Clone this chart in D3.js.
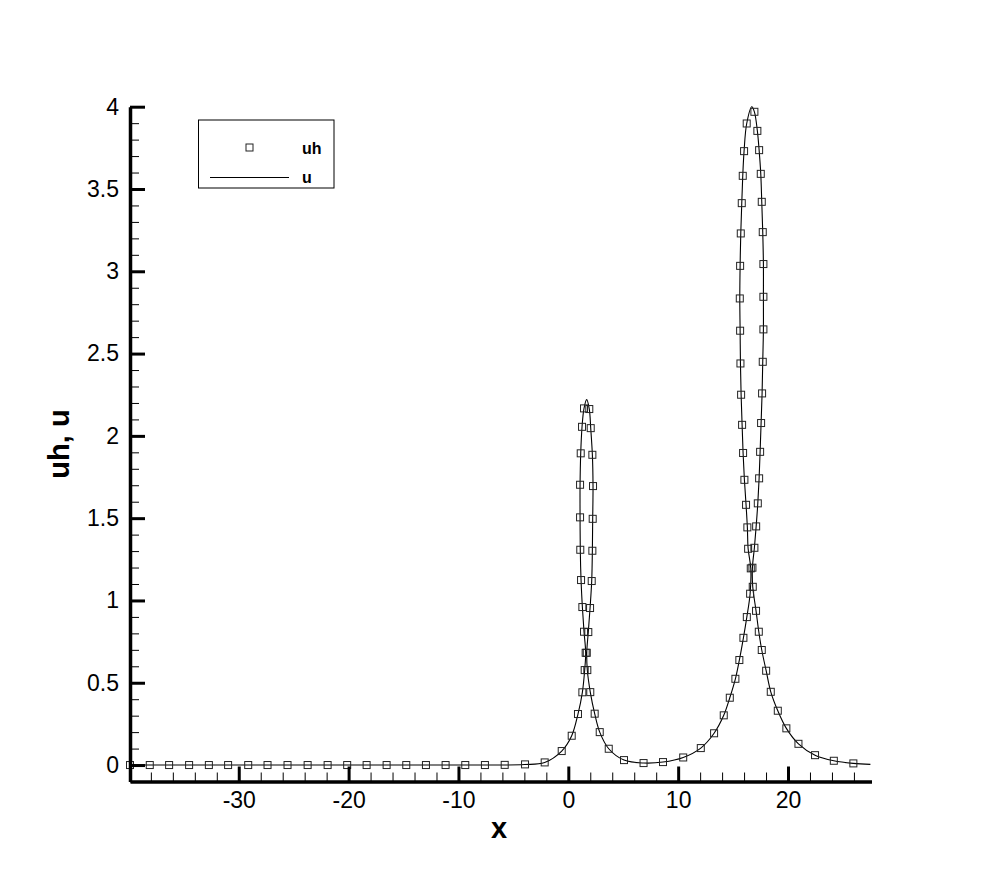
<!DOCTYPE html>
<html>
<head>
<meta charset="utf-8">
<script src="https://cdn.jsdelivr.net/npm/d3@7"></script>
<style>
  body { margin: 0; background: #fff; }
  text { font-family: "Liberation Sans", Arial, Helvetica, sans-serif; }
</style>
</head>
<body>
<div id="chart_block"></div>
<script>
// numerical solution markers (uh)
var uhX = [-39.9, -38.1, -36.34, -34.52, -32.72, -30.97, -29.14, -27.38, -25.56, -23.73,
    -21.91, -20.13, -18.36, -16.54, -14.75, -12.96, -11.17, -9.38, -7.59, -5.79, -3.94, -2.15,
    -0.6, 0.31, 0.88, 1.28, 1.49, 1.58, 1.43, 1.28, 1.16, 1.09, 1.07, 1.07, 1.13, 1.25, 1.43,
    1.91, 2.04, 2.19, 2.25, 2.22, 2.19, 2.13, 1.98, 1.82, 1.68, 1.73, 2.0, 2.4, 2.86, 3.68,
    5.07, 6.85, 8.62, 10.46, 12.06, 13.27, 14.15, 14.7, 15.21, 15.57, 15.94, 16.25, 16.55, 16.61,
    16.37, 16.3, 16.18, 16.03, 15.91, 15.82, 15.73, 15.67, 15.64, 15.61, 15.64, 15.7, 15.79, 15.88, 16.0, 16.24,
    16.94, 17.21, 17.37, 17.52, 17.61, 17.7, 17.76, 17.76, 17.76, 17.7, 17.64, 17.55, 17.46, 17.37, 17.25, 17.1, 16.94, 16.76,
    16.79, 17.09, 17.34, 17.61, 18.01, 18.43, 19.07, 19.85, 20.95, 22.46, 24.17, 25.95]
var uhU = [0, 0, 0, 0, 0, 0, 0, 0, 0, 0,
    0, 0, 0, 0, 0, 0, 0, 0, 0, 0.001, 0.004, 0.016,
    0.085, 0.178, 0.31, 0.442, 0.577, 0.682, 0.81, 0.96, 1.124, 1.308, 1.505, 1.703, 1.894, 2.055, 2.167,
    2.163, 2.047, 1.885, 1.695, 1.496, 1.302, 1.118, 0.954, 0.808, 0.682, 0.577, 0.443, 0.312, 0.2, 0.099,
    0.03, 0.012, 0.018, 0.046, 0.103, 0.193, 0.302, 0.409, 0.524, 0.638, 0.773, 0.899, 1.041, 1.195,
    1.314, 1.444, 1.581, 1.733, 1.896, 2.067, 2.25, 2.44, 2.639, 2.835, 3.033, 3.23, 3.414, 3.58, 3.73, 3.898,
    3.969, 3.853, 3.736, 3.592, 3.422, 3.238, 3.044, 2.845, 2.647, 2.45, 2.258, 2.078, 1.903, 1.742, 1.59, 1.45, 1.32, 1.199,
    1.083, 0.937, 0.81, 0.699, 0.573, 0.445, 0.33, 0.223, 0.129, 0.06, 0.026, 0.01]

// exact solution (u) as a dense-ish trace along the curve
var uX = [-39.9, -20, -8, -4, -2.15, -0.6, 0.31, 0.88, 1.28, 1.49, 1.58, 1.43, 1.28, 1.16, 1.09, 1.07, 1.07, 1.13, 1.25, 1.43,
    1.67, 1.91, 2.04, 2.19, 2.25, 2.22, 2.19, 2.13, 1.98, 1.82, 1.68, 1.73, 2.0, 2.4, 2.86, 3.68,
    5.07, 6.85, 8.62, 10.46, 12.06, 13.27, 14.15, 14.7, 15.21, 15.57, 15.94, 16.25, 16.55, 16.61,
    16.37, 16.3, 16.18, 16.03, 15.91, 15.82, 15.73, 15.67, 15.64, 15.61, 15.64, 15.7, 15.79, 15.88, 16.0, 16.24,
    16.7, 16.94, 17.21, 17.37, 17.52, 17.61, 17.7, 17.76, 17.76, 17.76, 17.7, 17.64, 17.55, 17.46, 17.37, 17.25, 17.1, 16.94, 16.76,
    16.79, 17.09, 17.34, 17.61, 18.01, 18.43, 19.07, 19.85, 20.95, 22.46, 24.17, 25.95, 27.5]
var uU = [0, 0, 0, 0.003, 0.016, 0.085, 0.178, 0.31, 0.442, 0.577, 0.682, 0.81, 0.96, 1.124, 1.308, 1.505, 1.703, 1.894, 2.055, 2.167,
    2.22, 2.163, 2.047, 1.885, 1.695, 1.496, 1.302, 1.118, 0.954, 0.808, 0.682, 0.577, 0.443, 0.312, 0.2, 0.099,
    0.03, 0.012, 0.018, 0.046, 0.103, 0.193, 0.302, 0.409, 0.524, 0.638, 0.773, 0.899, 1.041, 1.195,
    1.314, 1.444, 1.581, 1.733, 1.896, 2.067, 2.25, 2.44, 2.639, 2.835, 3.033, 3.23, 3.414, 3.58, 3.73, 3.898,
    4.0, 3.969, 3.853, 3.736, 3.592, 3.422, 3.238, 3.044, 2.845, 2.647, 2.45, 2.258, 2.078, 1.903, 1.742, 1.59, 1.45, 1.32, 1.199,
    1.083, 0.937, 0.81, 0.699, 0.573, 0.445, 0.33, 0.223, 0.129, 0.06, 0.026, 0.01, 0.004]

// ticks
var xMajorTicks = [-30, -20, -10, 0, 10, 20]
var xMinorTicks = d3.range(-38, 28, 2).filter(function(v) { return v % 10 != 0 })
var yMajorTicks = [0, 0.5, 1, 1.5, 2, 2.5, 3, 3.5, 4]
var yMinorTicks = d3.range(-0.1, 4.0, 0.1).map(function(v) { return Math.round(v * 10) / 10 })
    .filter(function(v) { return Math.round(v * 10) % 5 != 0 })

var legendNames = ["uh", "u"]

var width = 990,
    height = 880

var svg = d3.select("#chart_block")
    .append("svg")
    .attr("width", width)
    .attr("height", height)

var x = d3.scaleLinear().domain([-39.9, 27.6]).range([130, 871.5])
var y = d3.scaleLinear().domain([-0.1, 4]).range([781.5, 106.7])

// plain hyphen minus like the original plot
var plainFmt = function(d) { return String(d) }

// exact solution line
var lineData = uX.map(function(v, i) { return [v, uU[i]] })
var line = d3.line()
    .x(function(d) { return x(d[0]) })
    .y(function(d) { return y(d[1]) })
    .curve(d3.curveCatmullRom.alpha(0.5))

svg.append("path")
    .datum(lineData)
    .attr("d", line)
    .attr("fill", "none")
    .attr("stroke", "#000")
    .attr("stroke-width", 1.1)

// markers
var markerData = uhX.map(function(v, i) { return [v, uhU[i]] })
svg.append("g")
    .selectAll("rect")
    .data(markerData)
    .enter()
    .append("rect")
    .attr("x", function(d) { return x(d[0]) - 3.5 })
    .attr("y", function(d) { return y(d[1]) - 3.5 })
    .attr("width", 7)
    .attr("height", 7)
    .attr("fill", "none")
    .attr("stroke", "#222")
    .attr("stroke-width", 1)

// y axis: minor ticks, then major ticks with labels
svg.append("g")
    .attr("transform", "translate(" + x.range()[0] + ",0)")
    .call(d3.axisLeft(y).tickValues(yMinorTicks).tickSize(-9).tickFormat(""))
    .call(function(g) {
        g.select(".domain").remove()
        g.selectAll("line").attr("stroke", "#000").attr("stroke-width", 1)
    })

var yAxis = svg.append("g")
    .attr("transform", "translate(" + x.range()[0] + ",0)")
    .call(d3.axisLeft(y).tickValues(yMajorTicks).tickSize(-15).tickSizeOuter(0).tickPadding(11).tickFormat(plainFmt))
yAxis.select(".domain").attr("stroke", "#000").attr("stroke-width", 3.5)
yAxis.selectAll(".tick line").attr("stroke", "#000").attr("stroke-width", 3)
yAxis.selectAll("text").style("font-size", "23px").attr("fill", "#000")

// x axis
svg.append("g")
    .attr("transform", "translate(0," + y.range()[0] + ")")
    .call(d3.axisBottom(x).tickValues(xMinorTicks).tickSize(-9).tickFormat(""))
    .call(function(g) {
        g.select(".domain").remove()
        g.selectAll("line").attr("stroke", "#000").attr("stroke-width", 1)
    })

var xAxis = svg.append("g")
    .attr("transform", "translate(0," + y.range()[0] + ")")
    .call(d3.axisBottom(x).tickValues(xMajorTicks).tickSize(-15).tickSizeOuter(0).tickPadding(10).tickFormat(plainFmt))
xAxis.select(".domain").attr("stroke", "#000").attr("stroke-width", 3.5)
xAxis.selectAll(".tick line").attr("stroke", "#000").attr("stroke-width", 3)
xAxis.selectAll("text").style("font-size", "23px").attr("fill", "#000")

// axis titles
svg.append("text")
    .attr("x", 499)
    .attr("y", 838)
    .attr("text-anchor", "middle")
    .style("font-size", "29px")
    .style("font-weight", "bold")
    .text("x")

svg.append("text")
    .attr("transform", "translate(69,444) rotate(-90)")
    .attr("text-anchor", "middle")
    .style("font-size", "29px")
    .style("font-weight", "bold")
    .text("uh, u")

// legend
var legend = svg.append("g")
legend.append("rect")
    .attr("x", 198.5)
    .attr("y", 120)
    .attr("width", 135.5)
    .attr("height", 68)
    .attr("fill", "#fff")
    .attr("stroke", "#000")
    .attr("stroke-width", 1)
legend.append("rect")
    .attr("x", 246)
    .attr("y", 144)
    .attr("width", 7)
    .attr("height", 7)
    .attr("fill", "none")
    .attr("stroke", "#222")
legend.append("line")
    .attr("x1", 210)
    .attr("x2", 289)
    .attr("y1", 177.5)
    .attr("y2", 177.5)
    .attr("stroke", "#000")
    .attr("stroke-width", 1)
legend.selectAll(".lbl")
    .data(legendNames)
    .enter()
    .append("text")
    .attr("class", "lbl")
    .attr("x", 302)
    .attr("y", function(d, i) { return 154 + i * 29 })
    .style("font-size", "16px")
    .style("font-weight", "bold")
    .text(function(d) { return d })
</script>
</body>
</html>
